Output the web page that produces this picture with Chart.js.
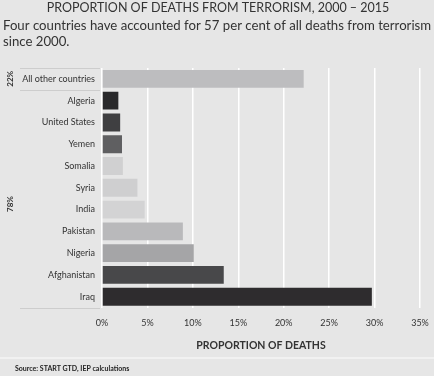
<!DOCTYPE html>
<html>
<head>
<meta charset="utf-8">
<script src="https://cdn.jsdelivr.net/npm/chart.js@4"></script>
<style>
  html, body { margin: 0; padding: 0; background: #e6e6e6; }
  #wrap { width: 434px; height: 376px; }
</style>
</head>
<body>
<div id="wrap"><canvas id="deathsChart" width="434" height="376"></canvas></div>
<script>
const countries = ['All other countries', 'Algeria', 'United States', 'Yemen', 'Somalia', 'Syria', 'India', 'Pakistan', 'Nigeria', 'Afghanistan', 'Iraq'];
const shares = [22.2, 1.8, 2.0, 2.2, 2.3, 3.9, 4.7, 8.9, 10.1, 13.4, 29.7];
const barColors = ['#bdbdbf', '#29292b', '#3f3f41', '#5f5f61', '#d0d0d1', '#cfcfd0', '#d3d3d4', '#b9b9bb', '#a5a5a7', '#48484a', '#2e2c2e'];
const xTicks = [0, 5, 10, 15, 20, 25, 30, 35];

const FONT = 'Lato, "Open Sans", sans-serif';

const extras = {
  id: 'extras',
  afterDraw(chart) {
    const ctx = chart.ctx;
    const y = chart.scales.y;
    ctx.save();
    ctx.fillStyle = '#333';
    ctx.textBaseline = 'top';
    ctx.font = '12.5px ' + FONT;
    ctx.textAlign = 'center';
    ctx.fillText('PROPORTION OF DEATHS FROM TERRORISM, 2000 \u2013 2015', 218, 2);
    ctx.font = '13.2px ' + FONT;
    ctx.textAlign = 'left';
    ctx.fillText('Four countries have accounted for 57 per cent of all deaths from terrorism', 3, 19);
    ctx.fillText('since 2000.', 3, 35);

    // bracket lines on the left
    const top = y.getPixelForValue(0) - 11;
    const mid = (y.getPixelForValue(0) + y.getPixelForValue(1)) / 2;
    const bot = y.getPixelForValue(countries.length - 1) + 11;
    ctx.strokeStyle = '#cdcdcd';
    ctx.lineWidth = 1;
    [top, mid, bot].forEach(p => {
      ctx.beginPath();
      ctx.moveTo(20, Math.round(p) + 0.5);
      ctx.lineTo(100, Math.round(p) + 0.5);
      ctx.stroke();
    });

    // group percentages
    ctx.font = 'bold 8px ' + FONT;
    ctx.textAlign = 'center';
    ctx.textBaseline = 'middle';
    [['22%', (top + mid) / 2], ['78%', 204]].forEach(([t, cy]) => {
      ctx.save();
      ctx.translate(10, cy);
      ctx.rotate(-Math.PI / 2);
      ctx.fillText(t, 0, 0);
      ctx.restore();
    });

    // footer
    ctx.strokeStyle = '#f4f4f4';
    ctx.lineWidth = 1.5;
    ctx.beginPath();
    ctx.moveTo(0, 358);
    ctx.lineTo(434, 358);
    ctx.stroke();
    ctx.font = 'bold 7px ' + FONT;
    ctx.textAlign = 'left';
    ctx.fillStyle = '#222';
    ctx.fillText('Source: START GTD, IEP calculations', 15, 369);
    ctx.restore();
  }
};

new Chart(document.getElementById('deathsChart'), {
  type: 'bar',
  data: {
    labels: countries,
    datasets: [{
      data: shares,
      backgroundColor: barColors,
      borderWidth: 0,
      barPercentage: 0.82,
      categoryPercentage: 1
    }]
  },
  options: {
    indexAxis: 'y',
    responsive: false,
    animation: false,
    layout: { padding: { top: 68, left: 20, right: 14, bottom: 24 } },
    plugins: { legend: { display: false }, tooltip: { enabled: false } },
    scales: {
      x: {
        min: 0,
        max: 35,
        afterBuildTicks: axis => { axis.ticks = xTicks.map(v => ({ value: v })); },
        afterFit: axis => { axis.paddingLeft = 0; axis.paddingRight = 0; },
        grid: { color: '#ffffff', lineWidth: 1.5, drawTicks: false },
        border: { display: false },
        ticks: {
          callback: v => v + '%',
          color: '#333',
          font: { family: FONT, size: 9 },
          padding: 10
        },
        title: {
          display: true,
          text: 'PROPORTION OF DEATHS',
          color: '#333',
          font: { family: FONT, size: 10.5, weight: 'bold' },
          padding: { top: 1, bottom: 0 }
        }
      },
      y: {
        grid: { display: false, drawTicks: false },
        border: { display: false },
        afterFit: axis => { axis.width = 82; },
        ticks: {
          color: '#333',
          font: { family: FONT, size: 9 },
          padding: 7
        }
      }
    }
  },
  plugins: [extras]
});
</script>
</body>
</html>
